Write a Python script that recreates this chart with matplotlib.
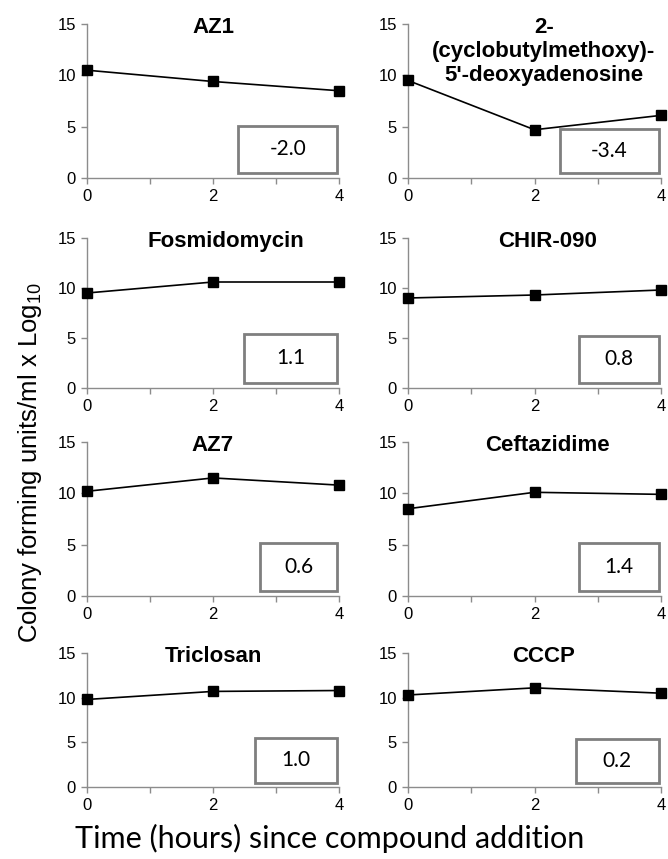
import numpy as np
import matplotlib
matplotlib.use("Agg")
import matplotlib.pyplot as plt
from matplotlib.patches import Rectangle

plt.rcParams["mathtext.fontset"] = "custom"
plt.rcParams["mathtext.rm"] = "Liberation Sans"
plt.rcParams["mathtext.default"] = "rm"

# datos
hours = [0, 2, 4]
compounds = ["AZ1", "2-\n(cyclobutylmethoxy)-\n5'-deoxyadenosine", "Fosmidomycin", "CHIR-090",
             "AZ7", "Ceftazidime", "Triclosan", "CCCP"]
az1 = [10.5, 9.4, 8.5]
cyclobutyl = [9.5, 4.7, 6.1]
fosmidomycin = [9.5, 10.6, 10.6]
chir090 = [9.0, 9.3, 9.8]
az7 = [10.2, 11.5, 10.8]
ceftazidime = [8.5, 10.1, 9.9]
triclosan = [9.8, 10.7, 10.8]
cccp = [10.3, 11.1, 10.5]
changes = ["-2.0", "-3.4", "1.1", "0.8", "0.6", "1.4", "1.0", "0.2"]
series = [az1, cyclobutyl, fosmidomycin, chir090, az7, ceftazidime, triclosan, cccp]

# posiciones de los paneles (pixeles de la figura 668x859)
W, H = 668, 859
cols = [(87, 252), (408, 253)]
rows = [(24, 178), (238, 388), (442, 596), (653, 787)]
box_left = [2.4, 2.4, 2.5, 2.7, 2.75, 2.7, 2.67, 2.65]
box_top = [5.1, 4.8, 5.4, 5.2, 5.2, 5.2, 5.5, 5.4]
title_x = [2.0, 2.15, 2.2, 2.2, 2.0, 2.2, 2.0, 2.15]

fig = plt.figure(figsize=(W / 100, H / 100), dpi=100)
grey = "#8c8c8c"

for i, (name, vals) in enumerate(zip(compounds, series)):
    r, c = divmod(i, 2)
    x0, w = cols[c]
    top, bot = rows[r]
    ax = fig.add_axes([x0 / W, 1 - bot / H, w / W, (bot - top) / H])
    ax.plot(hours, vals, color="black", linewidth=1.2, marker="s", markersize=6.5, clip_on=False, zorder=3)
    ax.set_xlim(0, 4)
    ax.set_ylim(0, 15)
    ax.set_xticks([0, 2, 4])
    ax.set_xticks([1, 3], minor=True)
    ax.set_yticks([0, 5, 10, 15])
    for s in ["top", "right"]:
        ax.spines[s].set_visible(False)
    for s in ["left", "bottom"]:
        ax.spines[s].set_color(grey)
        ax.spines[s].set_linewidth(1.0)
    ax.tick_params(which="both", direction="out", color=grey, length=4, width=1)
    ax.tick_params(labelsize=12, pad=4)
    for lab in ax.get_xticklabels() + ax.get_yticklabels():
        lab.set_fontfamily("Liberation Sans")
    ax.annotate(name, xy=(title_x[i], 1), xycoords=ax.get_xaxis_transform(),
                xytext=(0, 5), textcoords="offset points", ha="center", va="top",
                fontsize=16, fontweight="bold", family="Liberation Sans", linespacing=1.2)
    bl = box_left[i]
    bt = box_top[i]
    ax.add_patch(Rectangle((bl, 0.5), 3.97 - bl, bt - 0.5, facecolor="white",
                           edgecolor="#7f7f7f", linewidth=2, zorder=4, clip_on=False))
    ax.text((bl + 3.97) / 2, (bt + 0.5) / 2, changes[i], ha="center", va="center",
            fontsize=15, family="Lato", zorder=5)

fig.text(0.045, 1 - 463 / H, "Colony forming units/ml x Log$_{10}$", rotation=90,
         ha="center", va="center", fontsize=18.5, family="Liberation Sans")
fig.text(330 / W, 1 - 838 / H, "Time (hours) since compound addition", ha="center", va="center",
         fontsize=22, family="Lato")

fig.savefig("out.png", dpi=100)
